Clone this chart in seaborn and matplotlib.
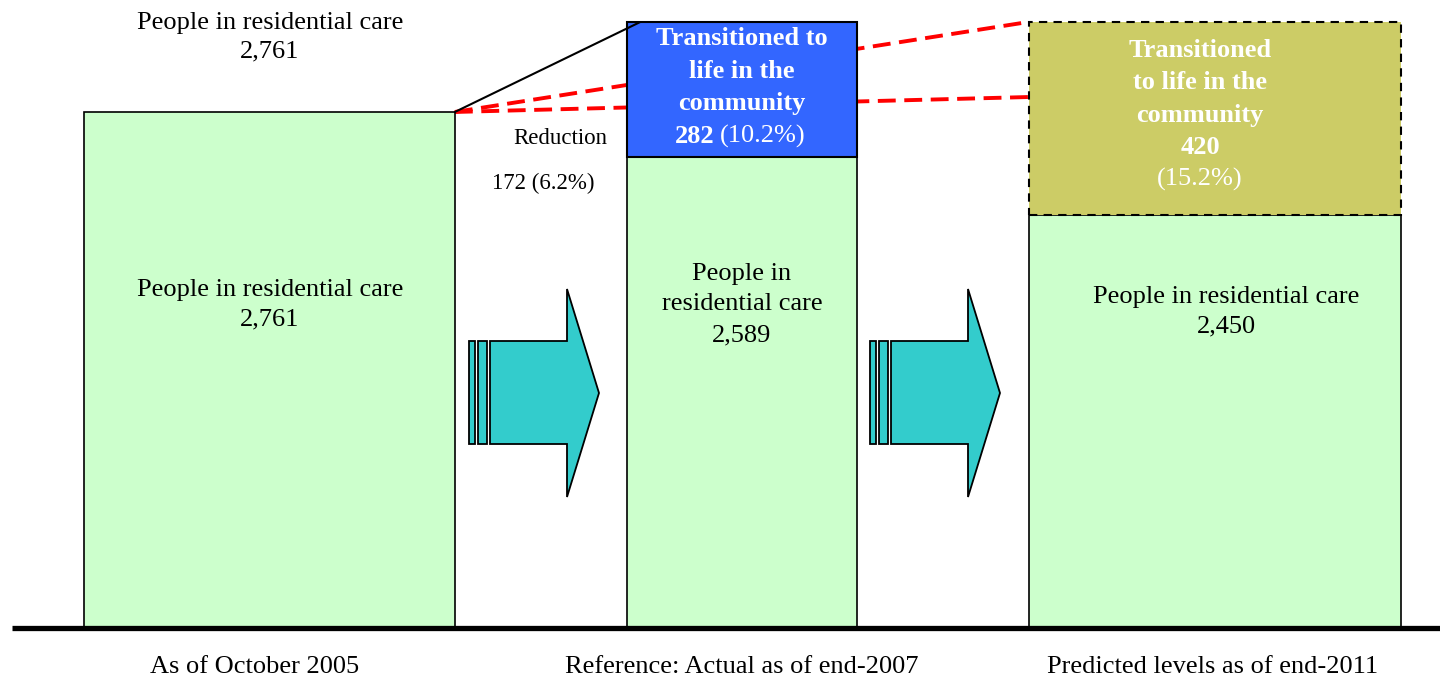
import matplotlib
matplotlib.use("Agg")
import matplotlib.pyplot as plt
from matplotlib.patches import Polygon, Rectangle
from matplotlib.transforms import Affine2D
import pandas as pd
import seaborn as sns

# stages and labelled values
stages = ["As of October 2005", "Reference: Actual as of end-2007", "Predicted levels as of end-2011"]
in_care = [2761, 2589, 2450]
transitioned = [0, 282, 420]
transitioned_pct = [0, 10.2, 15.2]
reduction = 172
reduction_pct = 6.2

# heights as drawn in the picture (bars are not to scale), in people
drawn_base = [2761, 2520, 2210]
drawn_top = [0, 722, 1033]
red_target = 2841  # where the lower red guide meets the last bar

green = "#CCFFCC"
blue = "#3366FF"
olive = "#CCCC66"
teal = "#33CCCC"

sns.set_theme(style="white")
plt.rcParams["font.family"] = ["Liberation Serif", "DejaVu Serif"]
plt.rcParams["text.color"] = "black"

fig = plt.figure(figsize=(14.4, 6.8), dpi=100)
ax = fig.add_axes([0, 0, 1, 1])

df = pd.DataFrame({"stage": stages, "height": drawn_base})
sns.barplot(data=df, x="stage", y="height", order=stages, color=green,
            saturation=1, edgecolor="black", linewidth=1.2, width=0.78, ax=ax, zorder=3)
widths = [0.785, 0.487, 0.787]
centers = [0, 1, 2.001]
for p, w, c in zip(ax.patches, widths, centers):
    p.set_x(c - w / 2)
    p.set_width(w)

# stacked top segments
ax.bar(centers[1], drawn_top[1], bottom=drawn_base[1], width=widths[1], color=blue,
       edgecolor="black", linewidth=1.5, zorder=4)
ax.bar(centers[2], drawn_top[2], bottom=drawn_base[2], width=widths[2], color=olive,
       edgecolor="black", linewidth=1.5, linestyle=(0, (4, 3)), zorder=4)

ax.set_xlim(-0.570, 2.477)
ax.set_ylim(-278, 3360)
ax.axis("off")

# ground line
ax.plot([-0.545, 2.477], [0, 0], color="black", lw=3.8, zorder=5, solid_capstyle="butt")

# guide lines
x1r = centers[0] + widths[0] / 2
x3l = centers[2] - widths[2] / 2
top_total = drawn_base[2] + drawn_top[2]
ax.plot([x1r, x3l], [drawn_base[0], top_total], color="red", lw=2.8,
        dashes=(4.6, 2.2), zorder=2)
ax.plot([x1r, x3l], [drawn_base[0], red_target], color="red", lw=2.8,
        dashes=(4.6, 2.2), zorder=2)
ax.plot([x1r, centers[1] - widths[1] / 2 + 0.028], [drawn_base[0], drawn_base[1] + drawn_top[1]],
        color="black", lw=1.5, zorder=5)

# pixel-based transform for decorations and text
px = Affine2D().scale(1 / 1440, -1 / 680).translate(0, 1) + fig.transFigure


def arrow(dx):
    for xa, xb in [(469, 475), (478, 487)]:
        fig.add_artist(Rectangle((xa + dx, 341), xb - xa, 103, transform=px,
                                 facecolor=teal, edgecolor="black", lw=1.3))
    pts = [(490, 341), (567, 341), (567, 289), (599, 393), (567, 497), (567, 444), (490, 444)]
    fig.add_artist(Polygon([(x + dx, y) for x, y in pts], closed=True, transform=px,
                           facecolor=teal, edgecolor="black", lw=1.3))


arrow(0)
arrow(401)

fs = 19
ls = 1.52
fmt = lambda v: f"{v:,}"

fig.text(270, 37, f"People in residential care\n{fmt(in_care[0])}", transform=px,
         ha="center", va="center", fontsize=fs, linespacing=1.4)
fig.text(270, 304.5, f"People in residential care\n{fmt(in_care[0])}", transform=px,
         ha="center", va="center", fontsize=fs, linespacing=1.45)
fig.text(560, 138, "Reduction", transform=px, ha="center", va="center", fontsize=16.5)
fig.text(543, 183, f"{reduction} ({reduction_pct}%)", transform=px, ha="center", va="center",
         fontsize=16.5)

fig.text(742, 71, "Transitioned to\nlife in the\ncommunity", transform=px, ha="center",
         va="center", fontsize=fs, fontweight="bold", color="white", linespacing=ls)
fig.text(714, 143, f"{transitioned[1]}", transform=px, ha="right", va="baseline",
         fontsize=fs, fontweight="bold", color="white")
fig.text(720, 143, f"({transitioned_pct[1]}%)", transform=px, ha="left", va="baseline",
         fontsize=fs, color="white")
fig.text(742, 304.5, f"People in\nresidential care\n{fmt(in_care[1])}", transform=px,
         ha="center", va="center", fontsize=fs, linespacing=ls)

fig.text(1200, 99, f"Transitioned\nto life in the\ncommunity\n{transitioned[2]}", transform=px,
         ha="center", va="center", fontsize=fs, fontweight="bold", color="white", linespacing=ls)
fig.text(1200, 179, f"({transitioned_pct[2]}%)", transform=px, ha="center", va="center",
         fontsize=fs, color="white")
fig.text(1226, 312, f"People in residential care\n{fmt(in_care[2])}", transform=px,
         ha="center", va="center", fontsize=fs, linespacing=1.45)

for xc, s in zip([255, 742, 1213], stages):
    fig.text(xc, 667, s, transform=px, ha="center", va="center", fontsize=fs)

fig.savefig("out.png", dpi=100)
